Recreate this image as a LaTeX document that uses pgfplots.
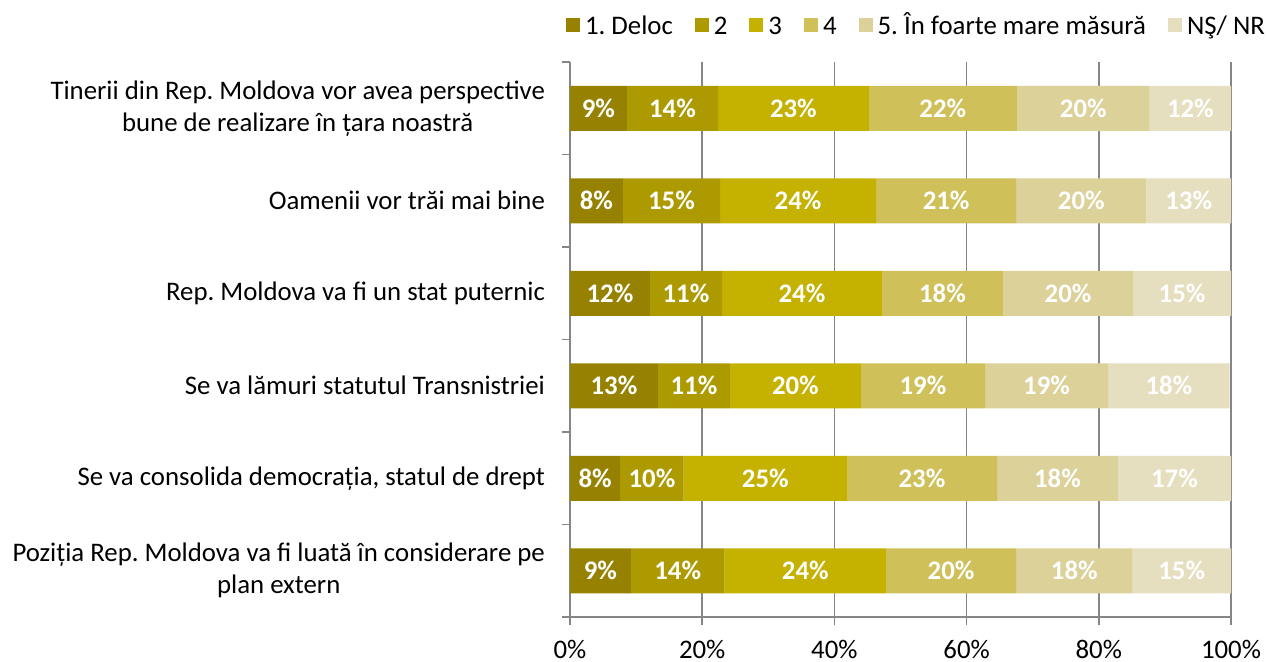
\documentclass[border=0pt]{standalone}
\usepackage{fontspec}
\setmainfont{Carlito}
\usepackage{pgfplots}
\usepackage{pgfplotstable}
\pgfplotsset{compat=1.18}
\frenchspacing
\definecolor{c1}{RGB}{150,130,0}
\definecolor{c2}{RGB}{173,154,0}
\definecolor{c3}{RGB}{196,177,0}
\definecolor{c4}{RGB}{208,192,90}
\definecolor{c5}{RGB}{219,209,153}
\definecolor{c6}{RGB}{230,223,191}
\definecolor{gridgray}{RGB}{134,134,134}
\newcommand{\fs}{\fontsize{13.4}{16}\selectfont}
\pgfplotstableread{
y a b c d e f
0 8.6 13.8 22.8 22.4 20.1 12.3
1 8.0 14.7 23.6 21.2 19.7 12.8
2 12.1 10.9 24.2 18.3 19.7 14.8
3 13.3 10.9 19.8 18.8 18.6 18.4
4 7.6 9.6 24.7 22.7 18.3 17.1
5 9.2 14.2 24.4 19.7 17.6 14.9
}\data
\begin{document}
\frenchspacing
\begin{tikzpicture}[x=1pt,y=1pt]
\path[use as bounding box] (-285,-22) rectangle (348.5,308.5);
\begin{axis}[
  at={(0,0)}, anchor=south west,
  width=330.5pt, height=277.5pt, scale only axis,
  xbar stacked, bar width=22.5pt,
  xmin=0, xmax=100, ymin=-0.5, ymax=5.5, y dir=reverse,
  enlargelimits=false,
  /pgf/number format/assume math mode=true,
  axis x line*=bottom, axis y line*=left,
  axis line style={gridgray, line width=0.75pt},
  xtick={0,20,...,100},
  xticklabel={\pgfmathprintnumber{\tick}\%},
  xticklabel style={font=\fs, inner sep=1pt, yshift=-6.5pt},
  xmajorgrids, major grid style={gridgray, line width=0.75pt},
  tick align=outside,
  major tick length=4pt, minor tick length=4pt,
  tick style={gridgray, line width=0.75pt},
  ytick={0,...,5},
  major y tick style={draw=none},
  minor ytick={-0.5,0.5,...,5.5},
  yticklabels={
    {Tinerii din Rep. Moldova vor avea perspective\\bune de realizare în țara noastră},
    {Oamenii vor trăi mai bine},
    {Rep. Moldova va fi un stat puternic},
    {Se va lămuri statutul Transnistriei},
    {Se va consolida democrația, statul de drept},
    {Poziția Rep. Moldova va fi luată în considerare pe\\plan extern}},
  yticklabel style={font=\fs\frenchspacing, align=center, xshift=-5pt},
  point meta=explicit,
  nodes near coords={\pgfmathprintnumber[fixed,precision=0,assume math mode=true]{\pgfplotspointmeta}\%},
  nodes near coords style={font=\fs\bfseries, text=white, anchor=center},
  legend style={at={(1.067,1.105)}, anchor=north east, draw=none, fill=none,
    legend columns=-1, font=\fs\frenchspacing,
    /tikz/every even column/.append style={column sep=9pt},
    /tikz/every odd column/.append style={column sep=0.5pt}},
  legend image code/.code={\fill[#1] (0pt,-3.5pt) rectangle (7pt,3.5pt);},
]
\addplot[fill=c1, draw=none] table[x=a, y=y, meta=a] {\data};
\addplot[fill=c2, draw=none] table[x=b, y=y, meta=b] {\data};
\addplot[fill=c3, draw=none] table[x=c, y=y, meta=c] {\data};
\addplot[fill=c4, draw=none] table[x=d, y=y, meta=d] {\data};
\addplot[fill=c5, draw=none] table[x=e, y=y, meta=e] {\data};
\addplot[fill=c6, draw=none] table[x=f, y=y, meta=f] {\data};
\legend{\strut 1. Deloc, \strut 2, \strut 3, \strut 4, \strut 5. În foarte mare măsură, \strut NŞ/ NR}
\end{axis}
\end{tikzpicture}
\end{document}
